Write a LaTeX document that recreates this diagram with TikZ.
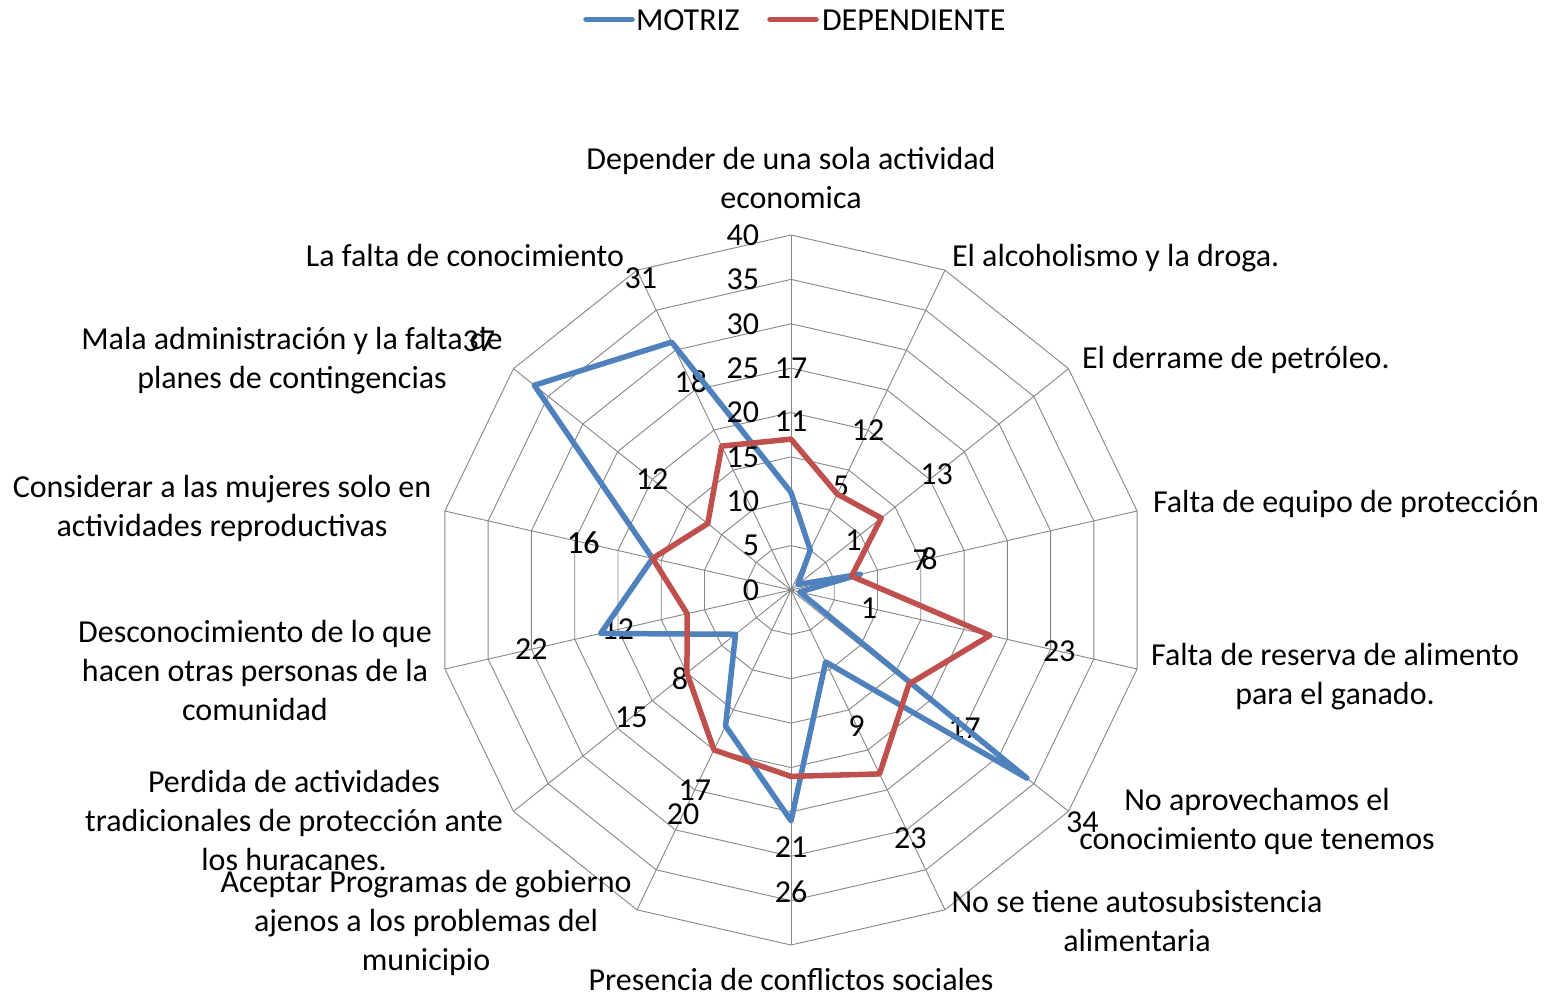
\documentclass[tikz,border=0pt]{standalone}
\usepackage{fontspec}
\setmainfont{Carlito}
\definecolor{motriz}{HTML}{4F81BD}
\definecolor{depend}{HTML}{C0504D}
\definecolor{gridgray}{HTML}{868686}
\begin{document}
\begin{tikzpicture}[x=1pt,y=-1pt,
  every node/.style={inner sep=0pt, outer sep=0pt, font=\fontsize{32}{39}\selectfont},
  gridline/.style={draw=gridgray, line width=0.9pt},
  serieB/.style={draw=motriz, line width=5.5pt, line join=round},
  serieR/.style={draw=depend, line width=5.5pt, line join=round},
  legline/.style={line width=5.5pt, line cap=round},
  num/.style={anchor=center},
  tick/.style={anchor=east},
  cat/.style={align=center, anchor=base},
  catw/.style={anchor=base west}]
\useasboundingbox (0,0) rectangle (1545,997);
\fill[white] (0,0) rectangle (1545,997);
\begin{scope}[shift={(791,590)}]
  \coordinate (O) at (0,0);
  % rings
  \foreach \v in {5,10,...,40}{
    \draw[gridline] (-90:\v*8.875) \foreach \k in {1,...,13}{ -- (\k*360/14-90:\v*8.875)} -- cycle;
  }
  % spokes
  \foreach \k in {0,...,13}{
    \coordinate (ax\k) at (\k*360/14-90:355);
    \draw[gridline] (O) -- (ax\k);
  }
  % series coordinates and labels
  \foreach \v [count=\k from 0] in {11,5,1,8,1,34,9,26,17,8,22,16,37,31}{
    \coordinate (b\k) at (\k*360/14-90:\v*8.875);
    \node[num] (bl\k) at (\k*360/14-90:\v*8.875+71) {\v};
  }
  \foreach \v [count=\k from 0] in {17,12,13,7,23,17,23,21,20,15,12,16,12,18}{
    \coordinate (r\k) at (\k*360/14-90:\v*8.875);
    \node[num] (rl\k) at (\k*360/14-90:\v*8.875+71) {\v};
  }
  \draw[serieB] (b0) -- (b1) -- (b2) -- (b3) -- (b4) -- (b5) -- (b6) -- (b7) -- (b8) -- (b9) -- (b10) -- (b11) -- (b12) -- (b13) -- cycle;
  \draw[serieR] (r0) -- (r1) -- (r2) -- (r3) -- (r4) -- (r5) -- (r6) -- (r7) -- (r8) -- (r9) -- (r10) -- (r11) -- (r12) -- (r13) -- cycle;
\end{scope}
% axis tick labels
\foreach \v in {0,5,...,40}{
  \node[tick] (t\v) at (759,590-\v*8.875) {\v};
}
% category labels (base anchor = baseline of last line)
\node[cat] (c0) at (791,208) {Depender de una sola actividad\\economica};
\node[catw] (c1) at (952,266.5) {El alcoholismo y la droga.};
\node[catw] (c2) at (1082,368.5) {El derrame de petróleo.};
\node[catw] (c3) at (1153,512) {Falta de equipo de protección};
\node[cat] (c4) at (1335,704.5) {Falta de reserva de alimento\\para el ganado.};
\node[cat] (c5) at (1257,849) {No aprovechamos el\\conocimiento que tenemos};
\node[cat] (c6) at (1137,951) {No se tiene autosubsistencia\\alimentaria};
\node[cat] (c7) at (791,990.5) {Presencia de conflictos sociales};
\node[cat] (c8) at (426,970) {Aceptar Programas de gobierno\\ajenos a los problemas del\\municipio};
\node[cat] (c9) at (294,870) {Perdida de actividades\\tradicionales de protección ante\\los huracanes.};
\node[cat] (c10) at (255,720) {Desconocimiento de lo que\\hacen otras personas de la\\comunidad};
\node[cat] (c11) at (222,536.5) {Considerar a las mujeres solo en\\actividades reproductivas};
\node[cat] (c12) at (292,388.5) {Mala administración y la falta de\\planes de contingencias};
\node[cat] (c13) at (465,266.5) {La falta de conocimiento};
% legend
\coordinate (lb1) at (586,19.5);
\coordinate (lb2) at (632,19.5);
\coordinate (lr1) at (770,19.5);
\coordinate (lr2) at (816,19.5);
\draw[legline, motriz] (lb1) -- (lb2);
\draw[legline, depend] (lr1) -- (lr2);
\node[catw] (lgb) at (636,30) {MOTRIZ};
\node[catw] (lgr) at (822,30) {DEPENDIENTE};
\end{tikzpicture}
\end{document}
